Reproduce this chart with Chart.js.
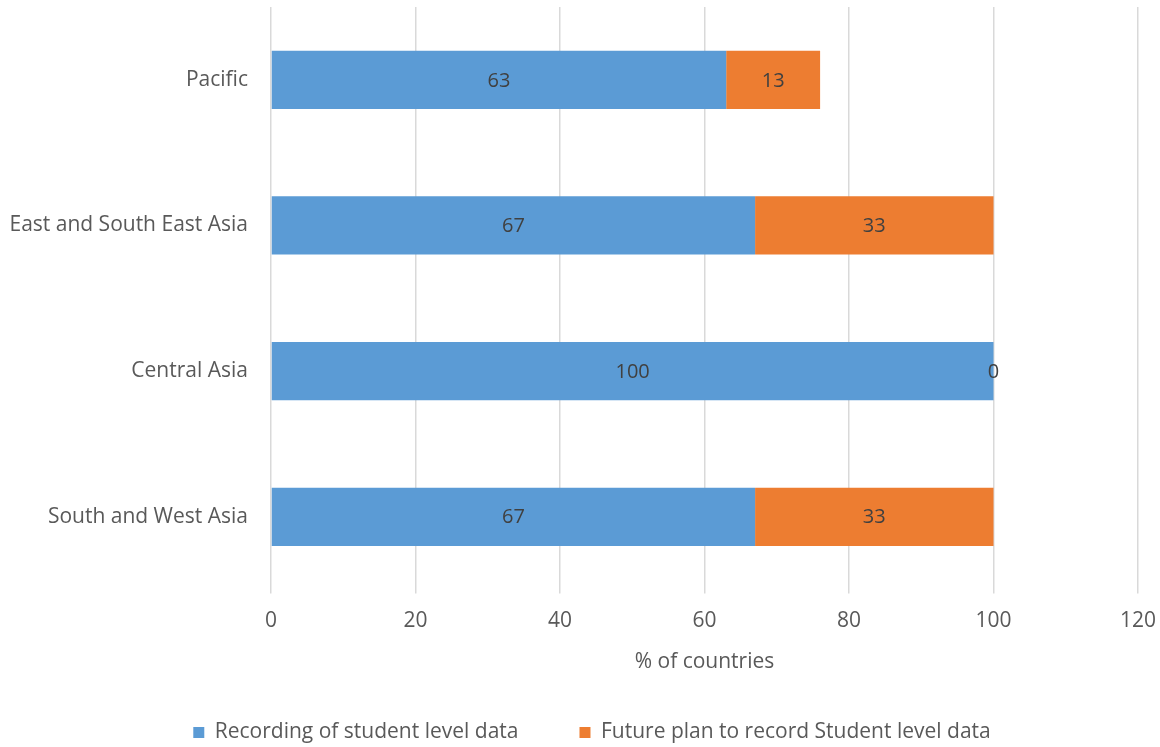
<!DOCTYPE html>
<html>
<head>
<meta charset="utf-8">
<script src="https://cdn.jsdelivr.net/npm/chart.js@4/dist/chart.umd.min.js"></script>
<style>
html,body{margin:0;padding:0;background:#fff;}
#wrap{width:1160px;height:747px;position:relative;}
</style>
</head>
<body>
<div id="wrap"><canvas id="c" width="1160" height="747"></canvas></div>
<script>
const categories = ["Pacific", "East and South East Asia", "Central Asia", "South and West Asia"];
const recording = [63, 67, 100, 67];
const futurePlan = [13, 33, 0, 33];
const seriesNames = ["Recording of student level data", "Future plan to record Student level data"];
const xTicks = [0, 20, 40, 60, 80, 100, 120];
const axisTitle = "% of countries";

const FONT = "'Open Sans', 'Liberation Sans', sans-serif";
const TEXT = "#595959";

const labelPlugin = {
  id: 'barLabels',
  afterLayout(chart) {
    // shift the centred legend to the right, as in the reference
    if (chart.legend) { chart.legend.left += 46; }
  },
  afterDatasetsDraw(chart) {
    const ctx = chart.ctx;
    ctx.save();
    ctx.font = "20px " + FONT;
    ctx.fillStyle = "#404040";
    ctx.textAlign = "center";
    ctx.textBaseline = "middle";
    chart.data.datasets.forEach((ds, i) => {
      const meta = chart.getDatasetMeta(i);
      meta.data.forEach((bar, j) => {
        const x = (bar.x + bar.base) / 2;
        ctx.fillText(String(ds.data[j]), x, bar.y + 1);
      });
    });
    ctx.restore();
  }
};

new Chart(document.getElementById('c'), {
  type: 'bar',
  data: {
    labels: categories,
    datasets: [
      { label: seriesNames[0], data: recording, backgroundColor: '#5B9BD5' },
      { label: seriesNames[1], data: futurePlan, backgroundColor: '#ED7D31' }
    ]
  },
  options: {
    indexAxis: 'y',
    responsive: false,
    animation: false,
    devicePixelRatio: 1,
    layout: { padding: { top: 7, right: 22, left: 0, bottom: -6 } },
    datasets: { bar: { barPercentage: 0.8, categoryPercentage: 0.5 } },
    scales: {
      x: {
        stacked: true,
        min: 0, max: 120,
        afterBuildTicks(scale) { scale.ticks = xTicks.map(v => ({ value: v })); },
        grid: { color: '#D9D9D9', lineWidth: 1.5, drawTicks: true, tickLength: 4 },
        border: { display: false },
        ticks: { color: TEXT, font: { family: FONT, size: 21 }, padding: 15 },
        title: { display: true, text: axisTitle, color: TEXT, font: { family: FONT, size: 21 }, padding: { top: 1, bottom: -14 } },
        afterFit(scale) { scale.paddingRight = 0; scale.paddingLeft = 0; }
      },
      y: {
        stacked: true,
        grid: { display: false },
        border: { display: false },
        ticks: { color: TEXT, font: { family: FONT, size: 21 }, padding: 15 },
        afterFit(scale) { scale.width = 271; scale.paddingTop = 0; scale.paddingBottom = 0; }
      }
    },
    plugins: {
      legend: {
        position: 'bottom',
        labels: {
          color: TEXT,
          font: { family: FONT, size: 21 },
          boxWidth: 11, boxHeight: 11,
          padding: 61
        }
      },
      tooltip: { enabled: false }
    }
  },
  plugins: [labelPlugin]
});
</script>
</body>
</html>
